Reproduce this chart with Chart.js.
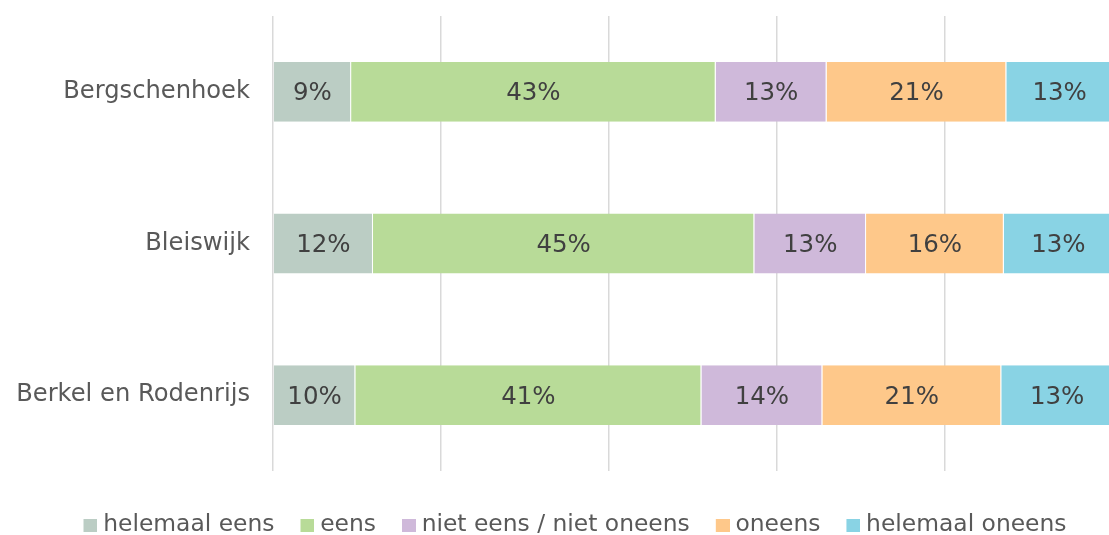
<!DOCTYPE html>
<html>
<head>
<meta charset="utf-8">
<script src="https://cdn.jsdelivr.net/npm/chart.js@4"></script>
<style>
  html, body { margin: 0; padding: 0; background: #ffffff; overflow: hidden; }
  #wrap { width: 1109px; height: 535px; overflow: hidden; position: relative; }
  #box { width: 1150px; height: 547px; position: absolute; left: 0; top: 0; }
</style>
</head>
<body>
<div id="wrap"><div id="box"><canvas id="chart"></canvas></div></div>
<script>
const categories = ["Bergschenhoek", "Bleiswijk", "Berkel en Rodenrijs"];
const seriesNames = ["helemaal eens", "eens", "niet eens / niet oneens", "oneens", "helemaal oneens"];
const helemaalEens = [9.3, 11.9, 9.8];
const eens = [43.4, 45.4, 41.2];
const nietEensNietOneens = [13.2, 13.3, 14.4];
const oneens = [21.4, 16.4, 21.3];
const helemaalOneens = [12.7, 13.0, 13.3];
const seriesColors = ["#bbcdc4", "#b8db98", "#cfb9da", "#fec88a", "#89d3e4"];

const FONT = "'DejaVu Sans', Verdana, sans-serif";
const LEGEND_FS = 23.4;
const TICK_FS = 24.2;
const LABEL_FS = 24.5;

const seriesValues = [helemaalEens, eens, nietEensNietOneens, oneens, helemaalOneens];

// little square for the legend, drawn right-aligned in its canvas so the gap to the text stays small
const legendSquare = (color) => {
  const c = document.createElement("canvas");
  c.width = 20;
  c.height = 13;
  const g = c.getContext("2d");
  g.fillStyle = color;
  g.fillRect(6, 0, 14, 13);
  return c;
};

// labels in the middle of each segment
const segmentLabels = {
  id: "segmentLabels",
  afterDatasetsDraw(chart) {
    const ctx = chart.ctx;
    ctx.save();
    ctx.font = `${LABEL_FS}px ${FONT}`;
    ctx.fillStyle = "#404040";
    ctx.textAlign = "center";
    ctx.textBaseline = "middle";
    chart.data.datasets.forEach((ds, i) => {
      const meta = chart.getDatasetMeta(i);
      meta.data.forEach((bar, j) => {
        const cx = (bar.x + bar.base) / 2;
        ctx.fillText(Math.round(ds.data[j]) + "%", cx, bar.y + 2);
      });
    });
    ctx.restore();
  },
};

// the legend sits centred on the full original width, not on the padded box
const shiftLegend = {
  id: "shiftLegend",
  afterLayout(chart) {
    if (chart.legend) chart.legend.left += 37;
  },
};

new Chart(document.getElementById("chart"), {
  type: "bar",
  data: {
    labels: categories,
    datasets: seriesNames.map((name, i) => ({
      label: name,
      data: seriesValues[i],
      backgroundColor: seriesColors[i],
      borderColor: "#ffffff",
      borderWidth: { top: 0, bottom: 0, left: 0, right: 1 },
      borderSkipped: false,
      barPercentage: 0.395,
      categoryPercentage: 1,
    })),
  },
  options: {
    indexAxis: "y",
    responsive: true,
    maintainAspectRatio: false,
    animation: false,
    layout: { padding: { top: 16, right: 37, left: 0, bottom: 0 } },
    scales: {
      x: {
        stacked: true,
        min: 0,
        max: 100,
        ticks: { display: false, stepSize: 20 },
        grid: { color: "#d9d9d9", lineWidth: 1.5, drawTicks: false },
        border: { display: false },
        afterFit: (scale) => {
          scale.height = 16.6;
        },
      },
      y: {
        stacked: true,
        ticks: {
          color: "#595959",
          padding: 23,
          font: { family: FONT, size: TICK_FS },
        },
        grid: { display: false, drawTicks: false },
        border: { display: false },
        afterFit: (scale) => {
          scale.width = 273;
          scale.paddingTop = 0;
          scale.paddingBottom = 0;
        },
      },
    },
    plugins: {
      legend: {
        position: "bottom",
        labels: {
          usePointStyle: true,
          pointStyleWidth: 8,
          boxHeight: 13,
          padding: 26,
          color: "#595959",
          font: { family: FONT, size: LEGEND_FS },
          generateLabels: (chart) =>
            Chart.defaults.plugins.legend.labels
              .generateLabels(chart)
              .map((item, i) => ({ ...item, pointStyle: legendSquare(seriesColors[i]) })),
        },
      },
      tooltip: { enabled: false },
    },
  },
  plugins: [segmentLabels, shiftLegend],
});
</script>
</body>
</html>
